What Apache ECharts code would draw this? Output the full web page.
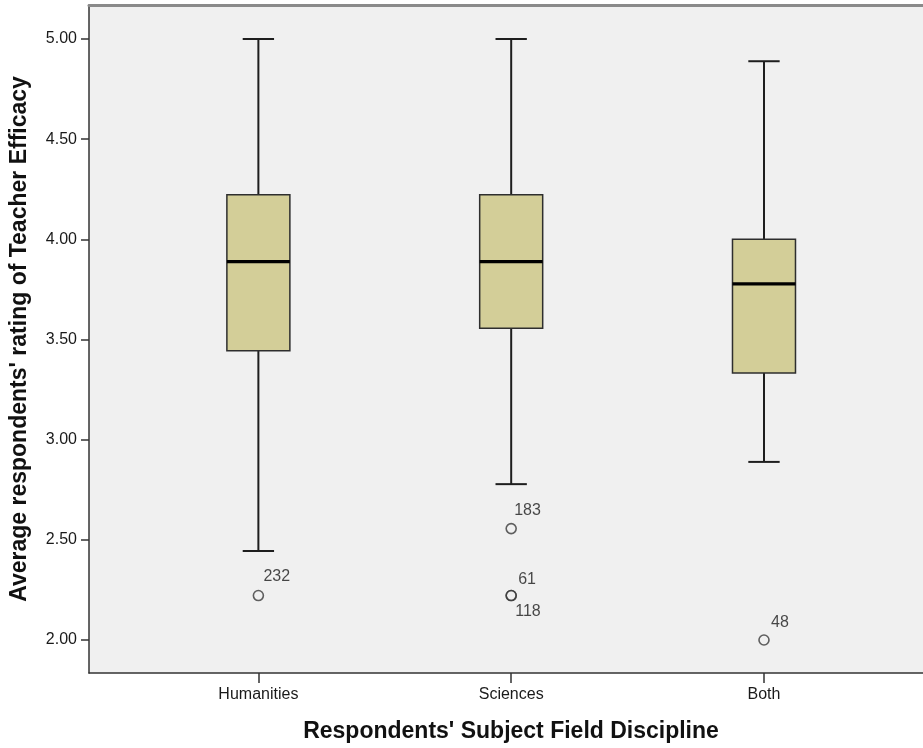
<!DOCTYPE html>
<html>
<head>
<meta charset="utf-8">
<script src="https://cdn.jsdelivr.net/npm/echarts@6/dist/echarts.min.js"></script>
<style>
  html, body { margin: 0; padding: 0; background: #ffffff; }
  #chart { width: 923px; height: 748px; }
</style>
</head>
<body>
<div id="chart"></div>
<script>
// ---- Data ----
const categories = ['Humanities', 'Sciences', 'Both'];
const lowerWhisker = [2.444, 2.778, 2.889];
const q1Values     = [3.444, 3.556, 3.333];
const medianValues = [3.889, 3.889, 3.778];
const q3Values     = [4.222, 4.222, 4.000];
const upperWhisker = [5.000, 5.000, 4.889];

const outlierCategory = [0, 1, 1, 1, 2];
const outlierValue    = [2.222, 2.556, 2.222, 2.222, 2.000];
const outlierId       = ['232', '183', '61', '118', '48'];

const yTickValues = [2.0, 2.5, 3.0, 3.5, 4.0, 4.5, 5.0];

// ---- Presentation ----
const FONT = "'Liberation Sans', Arial, sans-serif";
const BOX_HALF = 0.1246;
const CAP_HALF = 0.062;
const labelOffsets = [[5, -19], [3, -18], [7, -16], [4, 16], [7, -17]];

const boxData = categories.map((c, i) => [i, lowerWhisker[i], q1Values[i], medianValues[i], q3Values[i], upperWhisker[i]]);
const outlierData = outlierCategory.map((c, i) => ({
  value: [c, outlierValue[i]],
  name: outlierId[i],
  label: { offset: labelOffsets[i] }
}));

const chart = echarts.init(document.getElementById('chart'), null, { renderer: 'canvas' });

const option = {
  backgroundColor: '#ffffff',
  animation: false,
  grid: {
    left: 89, top: 5, right: 0, bottom: 75,
    show: true, backgroundColor: '#f0f0f0', borderWidth: 0
  },
  xAxis: [{
    type: 'value',
    min: -0.670, max: 2.629,
    position: 'bottom',
    axisLine: { show: true, onZero: false, lineStyle: { color: '#333333', width: 1.5 } },
    axisTick: { show: true, customValues: [0, 1, 2], length: 10, lineStyle: { color: '#333333', width: 1.5 } },
    axisLabel: {
      customValues: [0, 1, 2],
      formatter: v => categories[Math.round(v)],
      margin: 14, color: '#1a1a1a', fontSize: 16, fontFamily: FONT
    },
    splitLine: { show: false },
    name: "Respondents' Subject Field Discipline",
    nameLocation: 'middle',
    nameGap: 47,
    nameTextStyle: { fontSize: 23, fontWeight: 'bold', color: '#111111', fontFamily: FONT, padding: [0, 0, 0, 10] }
  }, {
    type: 'value',
    min: -0.670, max: 2.629,
    position: 'top',
    axisLine: { show: true, onZero: false, lineStyle: { color: '#8a8a8a', width: 3 } },
    axisTick: { show: false },
    axisLabel: { show: false },
    splitLine: { show: false }
  }],
  yAxis: {
    type: 'value',
    min: 1.8353, max: 5.1697,
    axisLine: { show: true, onZero: false, lineStyle: { color: '#333333', width: 1.5 } },
    axisTick: { show: true, customValues: yTickValues, length: 8, lineStyle: { color: '#333333', width: 1.5 } },
    axisLabel: {
      customValues: yTickValues,
      formatter: v => v.toFixed(2),
      margin: 12, color: '#1a1a1a', fontSize: 16, fontFamily: FONT
    },
    splitLine: { show: false },
    name: "Average respondents' rating of Teacher Efficacy",
    nameLocation: 'middle',
    nameGap: 58,
    nameTextStyle: { fontSize: 23, fontWeight: 'bold', color: '#111111', fontFamily: FONT }
  },
  series: [{
    type: 'custom',
    xAxisIndex: 0,
    data: boxData,
    encode: { x: 0, y: [1, 2, 3, 4, 5] },
    renderItem: function (params, api) {
      const x = api.value(0);
      const lo = api.coord([x, api.value(1)]);
      const q1 = api.coord([x, api.value(2)]);
      const md = api.coord([x, api.value(3)]);
      const q3 = api.coord([x, api.value(4)]);
      const hi = api.coord([x, api.value(5)]);
      const bl = api.coord([x - BOX_HALF, api.value(2)])[0];
      const br = api.coord([x + BOX_HALF, api.value(2)])[0];
      const cl = api.coord([x - CAP_HALF, api.value(2)])[0];
      const cr = api.coord([x + CAP_HALF, api.value(2)])[0];
      const cx = lo[0];
      const wStyle = { stroke: '#1e1e1e', lineWidth: 2 };
      return {
        type: 'group',
        children: [
          { type: 'line', shape: { x1: cx, y1: lo[1], x2: cx, y2: q1[1] }, style: wStyle },
          { type: 'line', shape: { x1: cx, y1: q3[1], x2: cx, y2: hi[1] }, style: wStyle },
          { type: 'line', shape: { x1: cl, y1: lo[1], x2: cr, y2: lo[1] }, style: wStyle },
          { type: 'line', shape: { x1: cl, y1: hi[1], x2: cr, y2: hi[1] }, style: wStyle },
          { type: 'rect', shape: { x: bl, y: q3[1], width: br - bl, height: q1[1] - q3[1] },
            style: { fill: '#d3ce98', stroke: '#2e2e2e', lineWidth: 1.5 } },
          { type: 'line', shape: { x1: bl, y1: md[1], x2: br, y2: md[1] },
            style: { stroke: '#000000', lineWidth: 3.2 } }
        ]
      };
    }
  }, {
    type: 'scatter',
    xAxisIndex: 0,
    data: outlierData,
    symbol: 'circle',
    symbolSize: 10,
    itemStyle: { color: 'rgba(0,0,0,0)', borderColor: '#3a3a3a', borderWidth: 1.6 },
    label: {
      show: true,
      position: 'inside',
      align: 'left',
      verticalAlign: 'middle',
      formatter: p => p.name,
      color: '#1a1a1a', fontSize: 16, fontFamily: FONT
    },
    emphasis: { disabled: true }
  }]
};

chart.setOption(option);
</script>
</body>
</html>
